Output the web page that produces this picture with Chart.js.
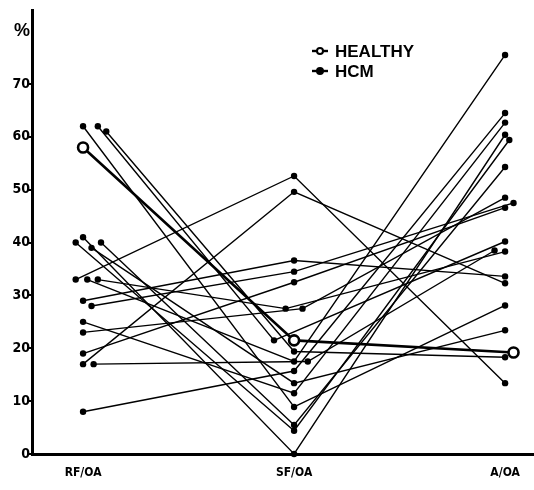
<!DOCTYPE html>
<html>
<head>
<meta charset="utf-8">
<script src="https://cdn.jsdelivr.net/npm/chart.js@4.4.1/dist/chart.umd.min.js"></script>
<style>
  html, body { margin: 0; padding: 0; background: #fff; }
  #wrap { width: 534px; height: 490px; }
</style>
</head>
<body>
<div id="wrap"><canvas id="chart"></canvas></div>
<script>
const categories = ['RF/OA', 'SF/OA', 'A/OA'];
const yTicks = [0, 10, 20, 30, 40, 50, 60, 70];
const unitLabel = '%';

// HCM patients, one entry per patient (RF/OA -> SF/OA -> A/OA)
const hcmRF = [62, 62, 61, 41, 40, 40, 39, 33, 33, 33, 29, 28, 25, 23, 19, 17, 17, 8];
const hcmSF = [8.9, 21.5, 19.4, 0, 4.4, 5.5, 13.4, 52.6, 17.5, 27.5, 36.6, 34.5, 11.5, 27.5, 32.5, 49.6, 17.5, 15.7];
const hcmA  = [28.1, 40.2, 18.3, 60.4, 59.4, 54.3, 23.4, 13.4, 75.5, 38.3, 33.6, 47.5, 62.7, 48.5, 46.6, 32.3, 38.5, 64.5];
// sideways shift of dots that would overlap, in category units
const hcmRFshift = [0, 0.07, 0.11, 0, -0.035, 0.085, 0.04, -0.035, 0.02, 0.07, 0, 0.04, 0, 0, 0, 0, 0.05, 0];
const hcmSFshift = [0, -0.095, 0, 0, 0, 0, 0, 0, 0, -0.04, 0, 0, 0, 0.04, 0, 0, 0.065, 0];
const hcmAshift  = [0, 0, 0, 0, 0.02, 0, 0, 0, 0, 0, 0, 0.04, 0, 0, 0, 0, -0.05, 0];

// mean of healthy subjects
const healthy = [58, 21.5, 19.2];
const healthyShift = [0, 0, 0.04];

const narrowFont = "'Liberation Sans Narrow', 'DejaVu Sans Condensed', sans-serif";

function toPoints(values, shifts) {
    return values.map((v, j) => ({ x: j + shifts[j], y: v }));
}

const datasets = [];
hcmRF.forEach((rf, i) => {
    datasets.push({
        label: 'HCM',
        data: toPoints([rf, hcmSF[i], hcmA[i]], [hcmRFshift[i], hcmSFshift[i], hcmAshift[i]]),
        borderColor: '#000',
        borderWidth: 1.4,
        pointRadius: 3.2,
        pointBackgroundColor: '#000',
        pointBorderWidth: 0,
        clip: false,
        order: 2
    });
});
datasets.push({
    label: 'HEALTHY',
    data: toPoints(healthy, healthyShift),
    borderColor: '#000',
    borderWidth: 2.6,
    pointRadius: 5,
    pointBackgroundColor: '#fff',
    pointBorderColor: '#000',
    pointBorderWidth: 2.6,
    clip: false,
    order: 1
});

// legend drawn by hand: a short line with the dot, then the name
const legendPlugin = {
    id: 'oldLegend',
    afterDraw(chart) {
        const ctx = chart.ctx;
        const items = [
            { text: 'HEALTHY', open: true, y: 51 },
            { text: 'HCM', open: false, y: 71 }
        ];
        ctx.save();
        items.forEach(it => {
            ctx.strokeStyle = '#000';
            ctx.lineWidth = 2.4;
            ctx.beginPath();
            ctx.moveTo(312, it.y);
            ctx.lineTo(328, it.y);
            ctx.stroke();
            ctx.beginPath();
            ctx.arc(320, it.y, 3, 0, Math.PI * 2);
            ctx.fillStyle = it.open ? '#fff' : '#000';
            ctx.fill();
            ctx.lineWidth = 2;
            ctx.stroke();
            ctx.fillStyle = '#000';
            ctx.font = "bold 17px 'Liberation Sans', Arial, sans-serif";
            ctx.textBaseline = 'middle';
            ctx.fillText(it.text, 335, it.y + 1);
        });
        ctx.restore();
    }
};

new Chart(document.getElementById('chart'), {
    type: 'line',
    data: { datasets },
    options: {
        responsive: true,
        maintainAspectRatio: false,
        animation: false,
        layout: { autoPadding: false, padding: { top: 10, right: 0, left: 0, bottom: 0 } },
        plugins: { legend: { display: false }, tooltip: { enabled: false } },
        scales: {
            x: {
                type: 'linear',
                min: -0.242,
                max: 2.137,
                afterBuildTicks: scale => { scale.ticks = categories.map((_, j) => ({ value: j })); },
                afterFit: scale => {
                    scale.height = 36;
                    scale.paddingLeft = 0;
                    scale.paddingRight = 0;
                },
                grid: { display: false, drawTicks: false },
                border: { display: true, color: '#000', width: 3 },
                ticks: {
                    padding: 12,
                    color: '#000',
                    font: { family: narrowFont, weight: 'bold', size: 12 },
                    callback: v => categories[v]
                }
            },
            y: {
                min: 0,
                max: 84,
                afterBuildTicks: scale => { scale.ticks = yTicks.concat([80]).map(v => ({ value: v })); },
                afterFit: scale => {
                    scale.width = 32;
                    scale.paddingTop = 0;
                    scale.paddingBottom = 0;
                },
                grid: {
                    drawOnChartArea: false,
                    tickLength: 4,
                    lineWidth: 2,
                    color: c => (c.tick && c.tick.value === 80 ? 'rgba(0,0,0,0)' : '#000')
                },
                border: { display: true, color: '#000', width: 3 },
                ticks: {
                    padding: -2,
                    color: '#000',
                    font: c => (c.tick && c.tick.value === 80
                        ? { family: "'Liberation Sans', Arial, sans-serif", weight: 'bold', size: 18 }
                        : { family: narrowFont, weight: 'bold', size: 14 }),
                    callback: v => (v === 80 ? unitLabel : v)
                }
            }
        }
    },
    plugins: [legendPlugin]
});
</script>
</body>
</html>
